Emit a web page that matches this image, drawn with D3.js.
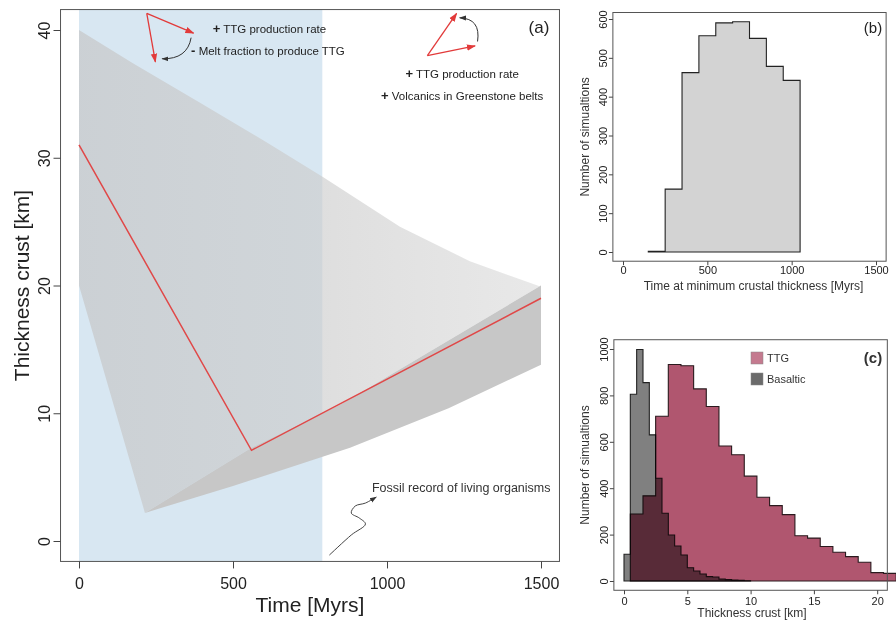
<!DOCTYPE html>
<html><head><meta charset="utf-8">
<script src="https://cdn.jsdelivr.net/npm/d3@7"></script>
<style>
body{margin:0;background:#fff}
svg{display:block;font-family:"Liberation Sans",Arial,Helvetica,sans-serif}
</style>
</head><body>
<svg id="c" width="896" height="622"></svg>
<script>
// ---------------- DATA ----------------
// Panel (a): envelopes of the simulated crustal-thickness paths [time Myr, thickness km]
const fanLeftEdge   = [[0,20],[0,40]];
const fanUpperEnv   = [[0,40],[175,37.4],[393,34.3],[610,31.2],[792,28.5],[1042,24.6],[1269,21.9],[1500,19.9]];
const ascendTopEnv  = [[214,2.2],[560,7.3],[850,10.7],[1500,20]];
const ascendLowEnv  = [[214,2.2],[500,4.3],[880,7.3],[1200,10.4],[1500,13.8]];
const redPath       = [[0,31],[560,7.1],[1500,19]];
const bluePeriod    = [0,790];
const xTicksA = [0,500,1000,1500];
const yTicksA = [0,10,20,30,40];

// Panel (b): histogram of time at minimum crustal thickness
const binEdgesB = [150,250,350,450,550,650,750,850,950,1050];
const countsB   = [2,162,462,557,590,593,550,478,442];
const xTicksB = [0,500,1000,1500];
const yTicksB = [0,100,200,300,400,500,600];

// Panel (c): histograms of crust thickness
const ttgEdgeStart = 0.5, ttgBinWidth = 1;
const ttgCounts = [289,367,710,933,928,828,752,582,544,452,361,325,286,195,185,149,124,105,81,36,33];
const basEdgeStart = 0, basBinWidth = 0.5;
const basCounts = [115,805,998,855,630,443,292,198,151,112,57,43,30,19,17,8,6,4,3,1];
const xTicksC = [0,5,10,15,20];
const yTicksC = [0,200,400,600,800,1000];
const legendC = ["TTG","Basaltic"];

// ---------------- CHART ----------------
const svg = d3.select("#c");
const defs = svg.append("defs");
const mk = (id,color)=>{
  defs.append("marker").attr("id",id).attr("viewBox","0 0 10 10").attr("refX",9).attr("refY",5)
    .attr("markerWidth",7).attr("markerHeight",7).attr("orient","auto-start-reverse")
    .append("path").attr("d","M0,1.5L10,5L0,8.5z").attr("fill",color);
};
mk("ahRed","#e23a3a"); mk("ahBlk","#333");

const tickColor="#444", frameColor="#555", txt="#222";

function drawAxes(g, x, y, frame, opt){
  g.append("rect").attr("x",frame.x0).attr("y",frame.y0)
    .attr("width",frame.x1-frame.x0).attr("height",frame.y1-frame.y0)
    .attr("fill","none").attr("stroke",frameColor).attr("stroke-width",1);
  const ax = g.append("g").attr("transform",`translate(0,${frame.y1})`)
    .call(d3.axisBottom(x).tickValues(opt.xt).tickSize(opt.ts).tickFormat(d3.format("d")));
  ax.select(".domain").remove();
  ax.selectAll("line").attr("stroke",tickColor);
  ax.selectAll("text").attr("y",opt.xlOff).attr("dy",0).attr("fill",txt)
    .style("font-size",opt.fs+"px");
  const ay = g.append("g").attr("transform",`translate(${frame.x0},0)`)
    .call(d3.axisLeft(y).tickValues(opt.yt).tickSize(opt.ts).tickFormat(d3.format("d")));
  ay.select(".domain").remove();
  ay.selectAll("line").attr("stroke",tickColor);
  ay.selectAll("text").attr("transform","rotate(-90)").attr("x",0).attr("y",-opt.ylOff)
    .attr("dy",0).attr("text-anchor","middle").attr("fill",txt).style("font-size",opt.fs+"px");
}

// ===== Panel (a) =====
const xA = d3.scaleLinear().domain([0,1500]).range([79,541]);
const yA = d3.scaleLinear().domain([0,40]).range([541,30]);
const frA = {x0:xA(-60), x1:xA(1560), y0:yA(41.6), y1:yA(-1.6)};
const gA = svg.append("g");

gA.append("rect").attr("x",xA(bluePeriod[0])).attr("y",frA.y0)
  .attr("width",xA(bluePeriod[1])-xA(bluePeriod[0])).attr("height",frA.y1-frA.y0)
  .attr("fill","#d8e7f2");

const grad = defs.append("linearGradient").attr("id","fanGrad").attr("gradientUnits","userSpaceOnUse")
  .attr("x1",xA(0)).attr("x2",xA(1500)).attr("y1",0).attr("y2",0);
grad.append("stop").attr("offset",0).attr("stop-color","#c8cacc").attr("stop-opacity",0.78);
grad.append("stop").attr("offset",0.5).attr("stop-color","#cccccc").attr("stop-opacity",0.65);
grad.append("stop").attr("offset",1).attr("stop-color","#d0d0d0").attr("stop-opacity",0.48);

const lineA = d3.line().x(d=>xA(d[0])).y(d=>yA(d[1]));
const fanPoly = [...fanLeftEdge, ...fanUpperEnv.slice(1), ...ascendTopEnv.slice().reverse()];
gA.append("path").attr("d",lineA(fanPoly)+"Z").attr("fill","url(#fanGrad)");

const bandPoly = [...ascendTopEnv, ...ascendLowEnv.slice().reverse()];
gA.append("path").attr("d",lineA(bandPoly)+"Z").attr("fill","#c7c7c7");

gA.append("path").attr("d",lineA(redPath)).attr("fill","none").attr("stroke","#e04848").attr("stroke-width",1.5);

drawAxes(gA,xA,yA,frA,{xt:xTicksA,yt:yTicksA,ts:7,fs:16,xlOff:28,ylOff:11});

gA.append("text").attr("x",(frA.x0+frA.x1)/2).attr("y",612).attr("text-anchor","middle")
  .style("font-size","21px").attr("fill",txt).text("Time [Myrs]");
gA.append("text").attr("transform",`translate(29,${(frA.y0+frA.y1)/2}) rotate(-90)`)
  .attr("text-anchor","middle").style("font-size","21px").attr("fill",txt).text("Thickness crust [km]");
gA.append("text").attr("x",539).attr("y",33).attr("text-anchor","middle")
  .style("font-size","17px").attr("fill",txt).text("(a)");

// annotations (data coords)
const ann = gA.append("g");
const arrow = (p0,p1,color,m)=>ann.append("line").attr("x1",xA(p0[0])).attr("y1",yA(p0[1]))
  .attr("x2",xA(p1[0])).attr("y2",yA(p1[1])).attr("stroke",color).attr("stroke-width",1.3).attr("marker-end",`url(#${m})`);
arrow([220,41.3],[372,39.75],"#e23a3a","ahRed");
arrow([220,41.3],[248,37.5],"#e23a3a","ahRed");
ann.append("path").attr("d",`M${xA(364)},${yA(39.4)} Q${xA(352)},${yA(37.7)} ${xA(270)},${yA(37.75)}`)
  .attr("fill","none").attr("stroke","#333").attr("stroke-width",1).attr("marker-end","url(#ahBlk)");
arrow([1131,38.0],[1286,38.75],"#e23a3a","ahRed");
arrow([1131,38.0],[1226,41.3],"#e23a3a","ahRed");
ann.append("path").attr("d",`M${xA(1294)},${yA(39.1)} Q${xA(1305)},${yA(40.9)} ${xA(1236)},${yA(40.95)}`)
  .attr("fill","none").attr("stroke","#333").attr("stroke-width",1).attr("marker-end","url(#ahBlk)");
const note = (t,h,sign,s,anchor)=>{
  const tx = ann.append("text").attr("x",xA(t)).attr("y",yA(h)).attr("text-anchor",anchor)
    .style("font-size","11.5px").attr("fill",txt);
  tx.append("tspan").style("font-weight","bold").style("font-size","13px").text(sign);
  tx.append("tspan").text(" "+s);
};
note(434,39.75,"+","TTG production rate","start");
note(364,38.05,"-","Melt fraction to produce TTG","start");
note(1244,36.25,"+","TTG production rate","middle");
note(1244,34.55,"+","Volcanics in Greenstone belts","middle");
ann.append("text").attr("x",xA(1241)).attr("y",yA(3.85)).attr("text-anchor","middle")
  .style("font-size","12.5px").attr("fill","#333").text("Fossil record of living organisms");
const squiggle = [[813,-1.1],[884,0.47],[930,1.33],[910,1.8],[884,2.19],[897,2.74],[930,2.97],[965,3.44]];
ann.append("path").attr("d",d3.line().x(d=>xA(d[0])).y(d=>yA(d[1])).curve(d3.curveCatmullRom)(squiggle))
  .attr("fill","none").attr("stroke","#444").attr("stroke-width",1).attr("marker-end","url(#ahBlk)");

// ===== Panel (b) =====
const xB = d3.scaleLinear().domain([0,1500]).range([623,876]);
const yB = d3.scaleLinear().domain([0,600]).range([252,19]);
const maxB = d3.max(countsB);
const frB = {x0:xB(-60), x1:xB(1560), y0:yB(maxB*1.04), y1:yB(-maxB*0.04)};
const gB = svg.append("g");
function stepPoly(edges, counts){
  const pts=[[edges[0],0]];
  counts.forEach((c,i)=>{pts.push([edges[i],c]);pts.push([edges[i+1],c]);});
  pts.push([edges[edges.length-1],0]);
  return pts;
}
gB.append("path").attr("d",d3.line().x(d=>xB(d[0])).y(d=>yB(d[1]))(stepPoly(binEdgesB,countsB))+"Z")
  .attr("fill","#d3d3d3").attr("stroke","#222").attr("stroke-width",1.1);
drawAxes(gB,xB,yB,frB,{xt:xTicksB,yt:yTicksB,ts:4,fs:11,xlOff:12.5,ylOff:5.5});
gB.append("text").attr("x",(frB.x0+frB.x1)/2+4).attr("y",289.5).attr("text-anchor","middle")
  .style("font-size","12px").attr("fill","#333").text("Time at minimum crustal thickness [Myrs]");
gB.append("text").attr("transform",`translate(589,${(frB.y0+frB.y1)/2}) rotate(-90)`).attr("text-anchor","middle")
  .style("font-size","12px").attr("fill","#333").text("Number of simualtions");
gB.append("text").attr("x",873).attr("y",33).attr("text-anchor","middle")
  .style("font-size","15px").attr("fill",txt).text("(b)");

// ===== Panel (c) =====
const xC = d3.scaleLinear().domain([0,20]).range([624,877.2]);
const yC = d3.scaleLinear().domain([0,1000]).range([581,349]);
const frC = {x0:xC(-0.8), x1:xC(20.8), y0:yC(1040), y1:yC(-40)};
const gC = svg.append("g");
const ttgEdges = d3.range(ttgCounts.length+1).map(i=>ttgEdgeStart+i*ttgBinWidth);
const basEdges = d3.range(basCounts.length+1).map(i=>basEdgeStart+i*basBinWidth);
const lineC = d3.line().x(d=>xC(d[0])).y(d=>yC(d[1]));
gC.append("path").attr("d",lineC(stepPoly(ttgEdges,ttgCounts))+"Z")
  .attr("fill","#b0566f").attr("stroke","#2a1a1e").attr("stroke-width",1.1);
gC.append("path").attr("d",lineC(stepPoly(basEdges,basCounts))+"Z")
  .attr("fill","#808080").style("mix-blend-mode","multiply").attr("stroke","#222").attr("stroke-width",1.1);
drawAxes(gC,xC,yC,frC,{xt:xTicksC,yt:yTicksC,ts:4,fs:11,xlOff:15,ylOff:5.5});
gC.append("text").attr("x",752).attr("y",617).attr("text-anchor","middle")
  .style("font-size","12px").attr("fill","#333").text("Thickness crust [km]");
gC.append("text").attr("transform",`translate(589,${(frC.y0+frC.y1)/2}) rotate(-90)`).attr("text-anchor","middle")
  .style("font-size","12px").attr("fill","#333").text("Number of simualtions");
gC.append("text").attr("x",873).attr("y",363).attr("text-anchor","middle")
  .style("font-size","15px").style("font-weight","bold").attr("fill","#333").text("(c)");
const legColors = ["#c47a8f","#6b6b6b"];
legendC.forEach((s,i)=>{
  gC.append("rect").attr("x",751).attr("y",352+i*21).attr("width",12).attr("height",12)
    .attr("fill",legColors[i]).attr("stroke","#888").attr("stroke-width",0.5);
  gC.append("text").attr("x",767).attr("y",362+i*21).style("font-size","11px").attr("fill","#333").text(s);
});
</script>
</body></html>
